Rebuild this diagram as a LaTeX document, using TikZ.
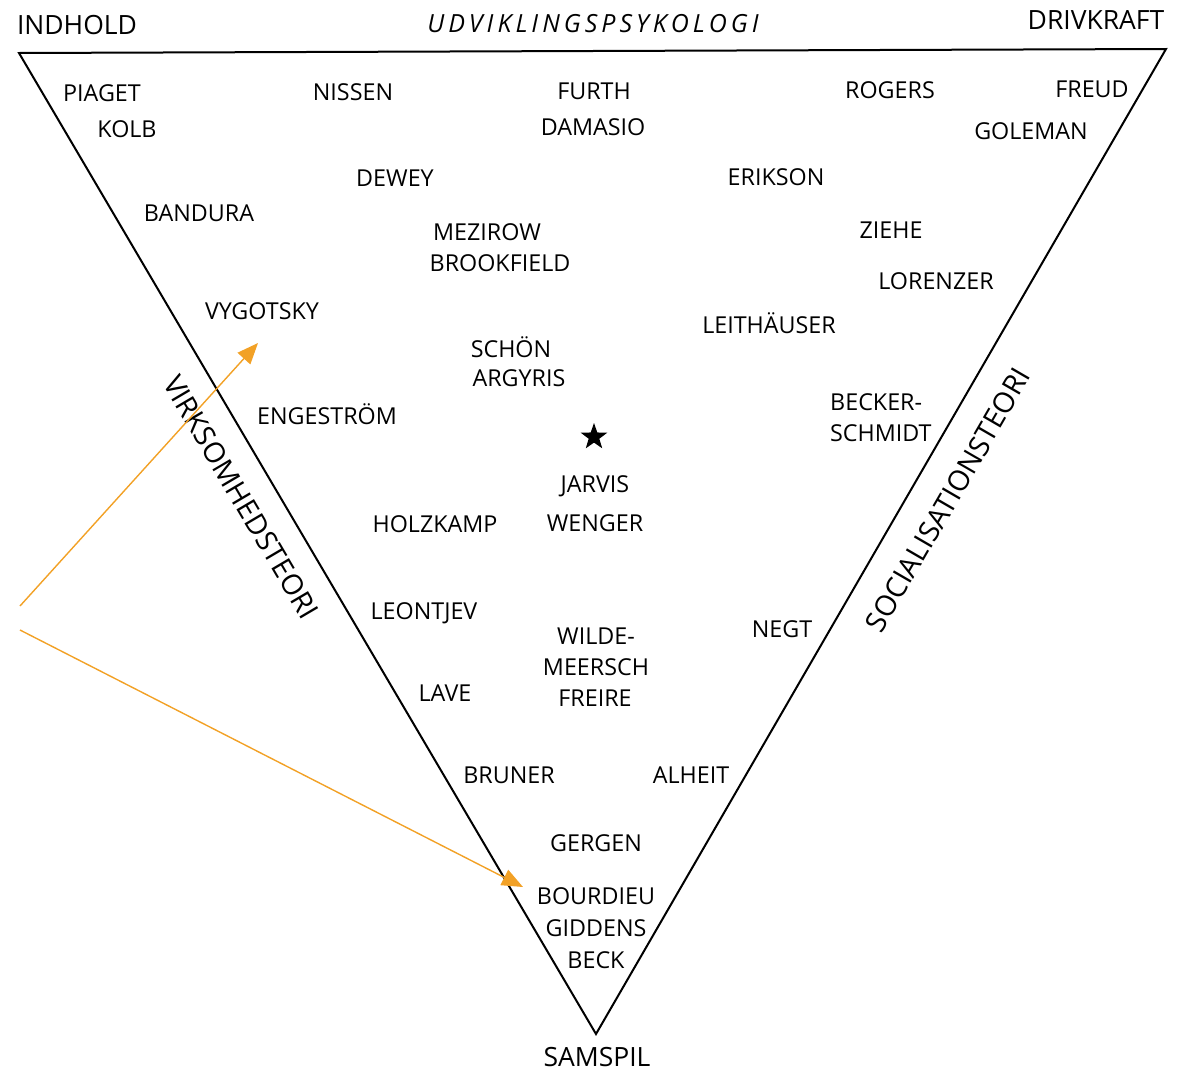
\documentclass[tikz,border=0pt]{standalone}
\usepackage{fontspec}
\setmainfont{Open Sans}
\usetikzlibrary{shapes.geometric,arrows.meta}
\definecolor{arroworange}{HTML}{F2A126}
\tikzset{
  person/.style={font=\fontsize{23.3}{31}\selectfont, inner sep=0pt, align=center},
  cornerlbl/.style={font=\fontsize{26.5}{30}\selectfont, inner sep=0pt},
  sidelbl/.style={font=\fontsize{28.5}{32}\selectfont, inner sep=0pt},
  triedge/.style={line width=2pt, line join=miter},
  pointer/.style={arroworange, line width=1.4pt, -{Triangle[length=21pt,width=17pt]}}
}
\begin{document}
\begin{tikzpicture}[x=1pt,y=-1pt]
\useasboundingbox (0,0) rectangle (1187,1074);
\coordinate (tl) at (19,53);
\coordinate (tr) at (1166,49);
\coordinate (bt) at (596,1034);
\draw[triedge] (tl) -- (tr) -- (bt) -- cycle;

\node[cornerlbl] (indhold) at (77,25) {INDHOLD};
\node[cornerlbl] (drivkraft) at (1096,20) {DRIVKRAFT};
\node[cornerlbl,font=\fontsize{25}{28}\selectfont\itshape\addfontfeatures{LetterSpace=16}] (udv) at (593,24) {UDVIKLINGSPSYKOLOGI};
\node[cornerlbl] (samspil) at (597,1057) {SAMSPIL};
\node[sidelbl, rotate=-59.5] (virk) at (241,497) {VIRKSOMHEDSTEORI};
\node[sidelbl, rotate=59.9] (soc) at (948,500) {SOCIALISATIONSTEORI};

\node[person] (piaget) at (102,93) {PIAGET};
\node[person] (kolb) at (127,129) {KOLB};
\node[person] (nissen) at (353,92) {NISSEN};
\node[person] (furth) at (594,91) {FURTH};
\node[person] (damasio) at (593,127) {DAMASIO};
\node[person] (rogers) at (890,90) {ROGERS};
\node[person] (freud) at (1092,89) {FREUD};
\node[person] (goleman) at (1031,131) {GOLEMAN};
\node[person] (dewey) at (395,178) {DEWEY};
\node[person] (erikson) at (776,177) {ERIKSON};
\node[person] (bandura) at (199,213) {BANDURA};
\node[person] (mezirow) at (487,232) {MEZIROW};
\node[person] (brookfield) at (500,263) {BROOKFIELD};
\node[person] (ziehe) at (891,230) {ZIEHE};
\node[person] (lorenzer) at (936,281) {LORENZER};
\node[person] (vygotsky) at (262,311) {VYGOTSKY};
\node[person] (leithauser) at (769,323) {LEITHÄUSER};
\node[person] (schon) at (511,347) {SCHÖN};
\node[person] (argyris) at (519,378) {ARGYRIS};
\node[person] (engestrom) at (327,414) {ENGESTRÖM};
\node[person, anchor=west] (becker) at (830,402) {BECKER-};
\node[person, anchor=west] (schmidt) at (830,433) {SCHMIDT};
\node[star, star points=5, star point ratio=2.5, fill=black, inner sep=0pt, minimum size=28pt] (star) at (594,437) {};
\node[person] (jarvis) at (595,486) {JARVIS};
\node[person] (wenger) at (595,523) {WENGER};
\node[person] (holzkamp) at (435,524) {HOLZKAMP};
\node[person] (leontjev) at (424,613) {LEONTJEV};
\node[person] (negt) at (782,629) {NEGT};
\node[person] (wilde) at (596,636) {WILDE-};
\node[person] (meersch) at (596,667) {MEERSCH};
\node[person] (freire) at (595,698) {FREIRE};
\node[person] (lave) at (445,693) {LAVE};
\node[person] (bruner) at (509,775) {BRUNER};
\node[person] (alheit) at (691,775) {ALHEIT};
\node[person] (gergen) at (596,843) {GERGEN};
\node[person] (bourdieu) at (596,896) {BOURDIEU};
\node[person] (giddens) at (596,928) {GIDDENS};
\node[person] (beck) at (596,960) {BECK};

\coordinate (s1) at (20,606);
\coordinate (e1) at (258,343);
\coordinate (s2) at (20,630);
\coordinate (e2) at (523,887);
\draw[pointer] (s1) -- (e1);
\draw[pointer] (s2) -- (e2);
\end{tikzpicture}
\end{document}
